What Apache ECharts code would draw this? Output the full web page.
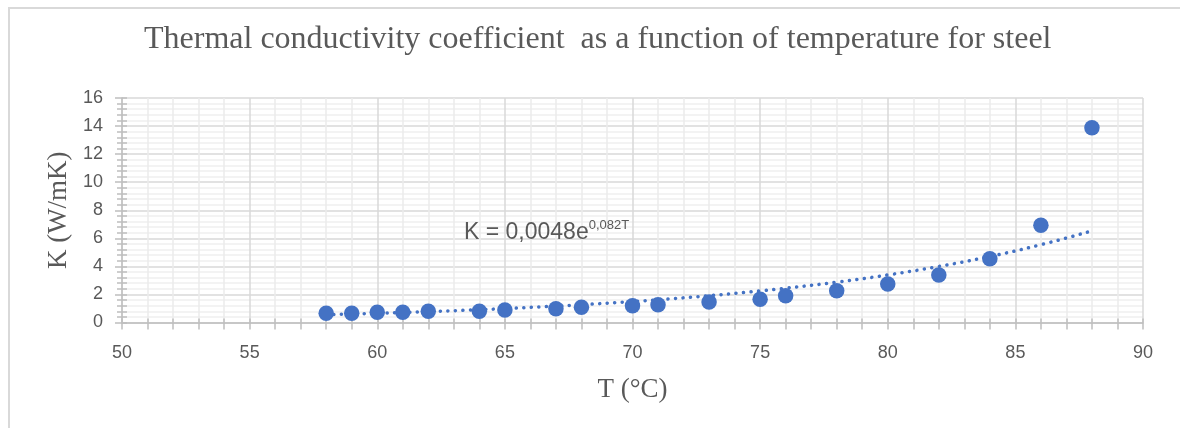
<!DOCTYPE html>
<html>
<head>
<meta charset="utf-8">
<script src="https://cdn.jsdelivr.net/npm/echarts@6/dist/echarts.min.js"></script>
<style>
html,body{margin:0;padding:0;background:#fff;}
#chart{width:1180px;height:428px;}
</style>
</head>
<body>
<div id="chart"></div>
<script>
const titleText = 'Thermal conductivity coefficient  as a function of temperature for steel';
const xName = 'T (°C)';
const yName = 'K (W/mK)';
const T = [58, 59, 60, 61, 62, 64, 65, 67, 68, 70, 71, 73, 75, 76, 78, 80, 82, 84, 86, 88];
const K = [0.66, 0.66, 0.73, 0.73, 0.8, 0.8, 0.89, 0.98, 1.08, 1.2, 1.27, 1.46, 1.65, 1.91, 2.27, 2.74, 3.38, 4.55, 6.93, 13.88];
const trendCoef = [0.0048, 0.082]; // K = a * e^(b*T), as printed on the chart
const xTicks = [50, 55, 60, 65, 70, 75, 80, 85, 90];
const yTicks = [0, 2, 4, 6, 8, 10, 12, 14, 16];

const fmt = v => String(v).replace('.', ',');
const trendData = T.map(t => [t, trendCoef[0] * Math.exp(trendCoef[1] * t)]);
const textColor = '#595959';
const axisColor = '#bfbfbf';

const chart = echarts.init(document.getElementById('chart'), null, {renderer: 'canvas'});

const baseX = {
  type: 'value', min: xTicks[0], max: xTicks[xTicks.length - 1], interval: xTicks[1] - xTicks[0],
  position: 'bottom'
};
const baseY = {
  type: 'value', min: yTicks[0], max: yTicks[yTicks.length - 1], interval: yTicks[1] - yTicks[0],
  position: 'left'
};

chart.setOption({
  animation: false,
  backgroundColor: '#fff',
  title: {
    text: titleText, left: 139, top: 19,
    textStyle: {fontFamily: 'Liberation Serif', fontSize: 32, fontWeight: 'normal', color: textColor}
  },
  grid: {left: 122, right: 37, top: 98, bottom: 105.5},
  xAxis: [
    Object.assign({}, baseX, {
      name: xName, nameLocation: 'middle', nameGap: 54,
      nameTextStyle: {fontFamily: 'Liberation Serif', fontSize: 27, color: textColor},
      axisLine: {show: true, lineStyle: {color: axisColor, width: 1.5}},
      axisTick: {show: true, length: 7, lineStyle: {color: axisColor, width: 1.5}},
      minorTick: {show: true, splitNumber: 5, length: 7, lineStyle: {color: axisColor, width: 1.5}},
      axisLabel: {fontFamily: 'Liberation Sans', fontSize: 18, color: textColor, margin: 22},
      splitLine: {show: true, lineStyle: {color: '#d9d9d9', width: 1.5}},
      minorSplitLine: {show: true, lineStyle: {color: '#ececec', width: 1.5}}
    }),
    Object.assign({}, baseX, {
      axisLine: {show: false},
      axisTick: {show: true, inside: true, length: 4, lineStyle: {color: axisColor, width: 1.5}},
      minorTick: {show: true, splitNumber: 5, length: 4, lineStyle: {color: axisColor, width: 1.5}},
      axisLabel: {show: false},
      splitLine: {show: false}
    })
  ],
  yAxis: [
    Object.assign({}, baseY, {
      name: yName, nameLocation: 'middle', nameGap: 50, nameRotate: 90,
      nameTextStyle: {fontFamily: 'Liberation Serif', fontSize: 27, color: textColor},
      axisLine: {show: true, lineStyle: {color: axisColor, width: 1.5}},
      axisTick: {show: true, length: 7, lineStyle: {color: axisColor, width: 1.5}},
      minorTick: {show: true, splitNumber: 5, length: 5, lineStyle: {color: axisColor, width: 1.5}},
      axisLabel: {fontFamily: 'Liberation Sans', fontSize: 18, color: textColor, margin: 19},
      splitLine: {show: true, lineStyle: {color: '#d9d9d9', width: 1.5}},
      minorSplitLine: {show: true, lineStyle: {color: '#efefef', width: 1.5}}
    }),
    Object.assign({}, baseY, {
      axisLine: {show: false},
      axisTick: {show: true, inside: true, length: 5, lineStyle: {color: axisColor, width: 1.5}},
      minorTick: {show: true, splitNumber: 5, length: 5, lineStyle: {color: axisColor, width: 1.5}},
      axisLabel: {show: false},
      splitLine: {show: false}
    })
  ],
  series: [
    {
      type: 'line', data: trendData, smooth: true, showSymbol: false, symbol: 'none',
      lineStyle: {color: '#4472C4', width: 3.5, type: [0.1, 7.5], cap: 'round'},
      z: 2, silent: true
    },
    {
      type: 'scatter', data: T.map((t, i) => [t, K[i]]), symbolSize: 15.5,
      itemStyle: {color: '#4472C4', opacity: 1}, z: 3
    }
  ],
  graphic: [
    {
      type: 'rect', shape: {x: 9, y: 8, width: 1200, height: 440},
      style: {fill: 'none', stroke: '#d9d9d9', lineWidth: 2}, z: 100, silent: true
    },
    {
      type: 'text', left: 464, top: 219, z: 50,
      style: {
        rich: {
          m: {fontFamily: 'Liberation Sans', fontSize: 23, fill: textColor, verticalAlign: 'bottom'},
          s: {fontFamily: 'Liberation Sans', fontSize: 13, fill: textColor, verticalAlign: 'top', padding: [0, 0, 12, 0]}
        },
        text: '{m|K = ' + fmt(trendCoef[0]) + 'e}{s|' + fmt(trendCoef[1]) + 'T}'
      }
    }
  ]
});
</script>
</body>
</html>
